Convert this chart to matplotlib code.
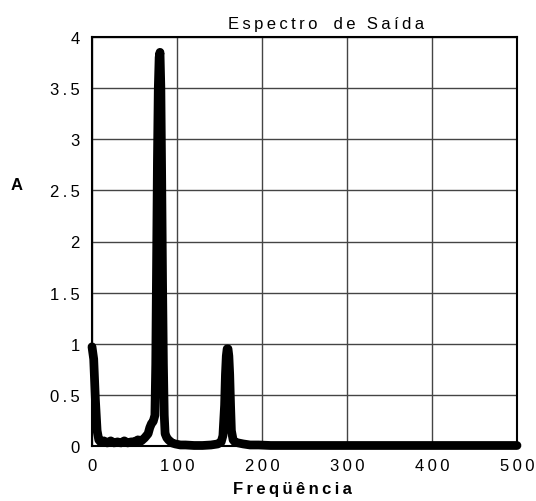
import matplotlib
matplotlib.use("Agg")
import matplotlib.pyplot as plt

plt.rcParams['font.family'] = ['Liberation Sans', 'DejaVu Sans']

freq = [0, 2, 4, 6, 8, 10, 14, 18, 22, 26, 30, 34, 38, 42, 46, 50, 54, 58, 62,
        66, 68, 70, 72, 74, 75, 76, 77, 78, 79, 80, 81, 82, 83, 84, 85, 86, 88,
        90, 94, 98, 104, 110, 120, 130, 140, 148, 152, 154, 156, 157, 158, 159,
        160, 161, 162, 163, 164, 166, 168, 172, 178, 186, 196, 210, 250, 300,
        350, 400, 450, 500]
amp = [0.97, 0.85, 0.45, 0.15, 0.06, 0.04, 0.05, 0.03, 0.05, 0.03, 0.04, 0.03,
       0.05, 0.03, 0.04, 0.04, 0.06, 0.05, 0.08, 0.12, 0.18, 0.22, 0.24, 0.3,
       0.8, 1.8, 2.8, 3.5, 3.8, 3.85, 3.5, 2.6, 1.6, 0.8, 0.3, 0.12, 0.08,
       0.06, 0.03, 0.02, 0.01, 0.01, 0.005, 0.005, 0.01, 0.02, 0.04, 0.1, 0.4,
       0.7, 0.88, 0.95, 0.95, 0.88, 0.7, 0.4, 0.15, 0.06, 0.04, 0.03, 0.02, 0.01,
       0.01, 0.005, 0.005, 0.005, 0.005, 0.005, 0.005, 0.005]

xticks = [0, 100, 200, 300, 400, 500]
yticks = [0, 0.5, 1, 1.5, 2, 2.5, 3, 3.5, 4]
ytick_labels = ['0', '0.5', '1', '1.5', '2', '2.5', '3', '3.5', '4']
title_words = ['Espectro', 'de', 'Saída']
xlabel = 'Freqüência'
ylabel = 'A'

SP = '\u2009'


def spaced(s):
    return SP.join(list(s))


title = (spaced(title_words[0]) + SP + '  ' + SP + spaced(title_words[1])
         + SP + ' ' + SP + spaced(title_words[2]))

fig = plt.figure(figsize=(5.36, 5.02), dpi=100)
ax = fig.add_axes([92/536, 1-447/502, 425/536, 409/502])
ax.plot(freq, amp, color='black', lw=6.3, solid_capstyle='round',
        solid_joinstyle='round', clip_on=False, zorder=3)
ax.set_xlim(0, 500)
ax.set_ylim(0, 4)
ax.set_xticks(xticks)
ax.set_xticklabels([spaced(str(t)) for t in xticks])
ax.set_yticks(yticks)
ax.set_yticklabels([spaced(t) for t in ytick_labels])
ax.grid(True, color='#444444', lw=1.0)
ax.tick_params(length=0, labelsize=12)
ax.tick_params(axis='x', pad=9)
ax.tick_params(axis='y', pad=9)
for s in ax.spines.values():
    s.set_linewidth(1.5)
    s.set_color('black')
ax.set_axisbelow(True)

fig.text(326/536, 1-24/502, title, ha='center', va='center', fontsize=12)
fig.text(17/536, 1-186/502, ylabel, ha='center', va='center', fontsize=12, fontweight='bold')
fig.text(292/536, 1-490/502, spaced(xlabel), ha='center', va='center', fontsize=12, fontweight='bold')

fig.savefig('out.png', dpi=100)
